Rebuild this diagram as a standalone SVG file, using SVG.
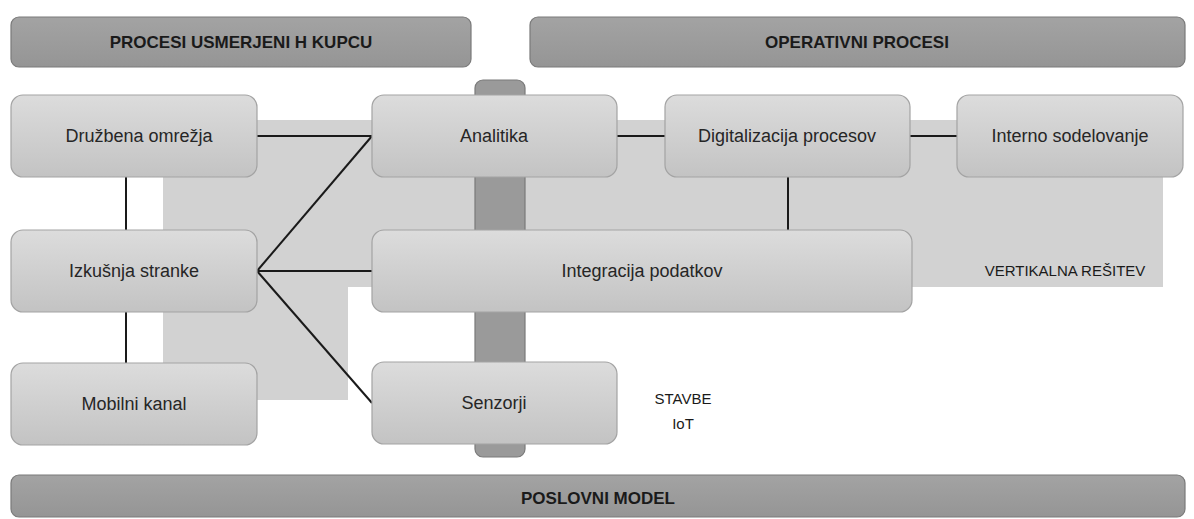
<svg xmlns="http://www.w3.org/2000/svg" width="1194" height="519" viewBox="0 0 1194 519">
<defs>
<linearGradient id="nodeGrad" x1="0" y1="0" x2="0" y2="1">
<stop offset="0" stop-color="#dcdcdc"/>
<stop offset="1" stop-color="#c3c3c3"/>
</linearGradient>
<linearGradient id="darkGrad" x1="0" y1="0" x2="0" y2="1">
<stop offset="0" stop-color="#a3a3a3"/>
<stop offset="1" stop-color="#959595"/>
</linearGradient>
</defs>
<style>
.hdr{fill:url(#darkGrad);stroke:#7a7a7a;stroke-width:1.2}
.node{fill:url(#nodeGrad);stroke:#a3a3a3;stroke-width:1.2}
.hdrText{font-family:"Liberation Sans",Arial,sans-serif;font-size:17px;font-weight:bold;fill:#1a1a1a;text-anchor:middle;dominant-baseline:central}
.nodeText{font-family:"Liberation Sans",Arial,sans-serif;font-size:18px;fill:#262626;text-anchor:middle;dominant-baseline:central}
.label{font-family:"Liberation Sans",Arial,sans-serif;font-size:15px;fill:#1a1a1a;text-anchor:middle;dominant-baseline:central}
.conn{stroke:#1a1a1a;stroke-width:2;fill:none}
</style>
<rect width="1194" height="519" fill="#ffffff"/>
<!-- background region -->
<g id="vertical-region">
<polygon points="163,120 1163,120 1163,287 348,287 348,400 163,400" fill="#d2d2d2"/>
</g>
<!-- IoT bar -->
<g id="iot-bar">
<rect x="475" y="80" width="50" height="377" rx="8" fill="#9a9a9a" stroke="#7a7a7a" stroke-width="1.2"/>
</g>
<!-- headers -->
<g id="hdr-kupec">
<rect class="hdr" x="11" y="17" width="460" height="50" rx="8"/>
<text class="hdrText" x="241" y="42">PROCESI USMERJENI H KUPCU</text>
</g>
<g id="hdr-operativni">
<rect class="hdr" x="530" y="17" width="655" height="50" rx="8"/>
<text class="hdrText" x="857" y="42">OPERATIVNI PROCESI</text>
</g>
<g id="hdr-poslovni">
<rect class="hdr" x="11" y="475" width="1174" height="42" rx="8"/>
<text class="hdrText" x="598" y="498">POSLOVNI MODEL</text>
</g>
<!-- connectors -->
<g id="connectors">
<line class="conn" x1="257" y1="136" x2="372" y2="136"/>
<line class="conn" x1="257" y1="271" x2="372" y2="136"/>
<line class="conn" x1="257" y1="271" x2="372" y2="271"/>
<line class="conn" x1="257" y1="271" x2="372" y2="403"/>
<line class="conn" x1="617" y1="136" x2="665" y2="136"/>
<line class="conn" x1="910" y1="136" x2="957" y2="136"/>
<line class="conn" x1="788" y1="177" x2="788" y2="230"/>
<line class="conn" x1="126" y1="177" x2="126" y2="230"/>
<line class="conn" x1="126" y1="312" x2="126" y2="363"/>
</g>
<!-- nodes -->
<g id="druzbena">
<rect class="node" x="11" y="95" width="246" height="82" rx="12"/>
<text class="nodeText" x="139" y="136">Družbena omrežja</text>
</g>
<g id="izkusnja">
<rect class="node" x="11" y="230" width="246" height="82" rx="12"/>
<text class="nodeText" x="134" y="271">Izkušnja stranke</text>
</g>
<g id="mobilni">
<rect class="node" x="11" y="363" width="246" height="82" rx="12"/>
<text class="nodeText" x="134" y="404">Mobilni kanal</text>
</g>
<g id="analitika">
<rect class="node" x="372" y="95" width="245" height="82" rx="12"/>
<text class="nodeText" x="494" y="136">Analitika</text>
</g>
<g id="digitalizacija">
<rect class="node" x="665" y="95" width="245" height="82" rx="12"/>
<text class="nodeText" x="787" y="136">Digitalizacija procesov</text>
</g>
<g id="interno">
<rect class="node" x="957" y="95" width="226" height="82" rx="12"/>
<text class="nodeText" x="1070" y="136">Interno sodelovanje</text>
</g>
<g id="integracija">
<rect class="node" x="372" y="230" width="540" height="82" rx="12"/>
<text class="nodeText" x="642" y="271">Integracija podatkov</text>
</g>
<g id="senzorji">
<rect class="node" x="372" y="362" width="245" height="82" rx="12"/>
<text class="nodeText" x="494" y="403">Senzorji</text>
</g>
<!-- labels -->
<g id="labels">
<text class="label" x="1065" y="270">VERTIKALNA REŠITEV</text>
<text class="label" x="683" y="398">STAVBE</text>
<text class="label" x="683" y="423">IoT</text>
</g>
</svg>
